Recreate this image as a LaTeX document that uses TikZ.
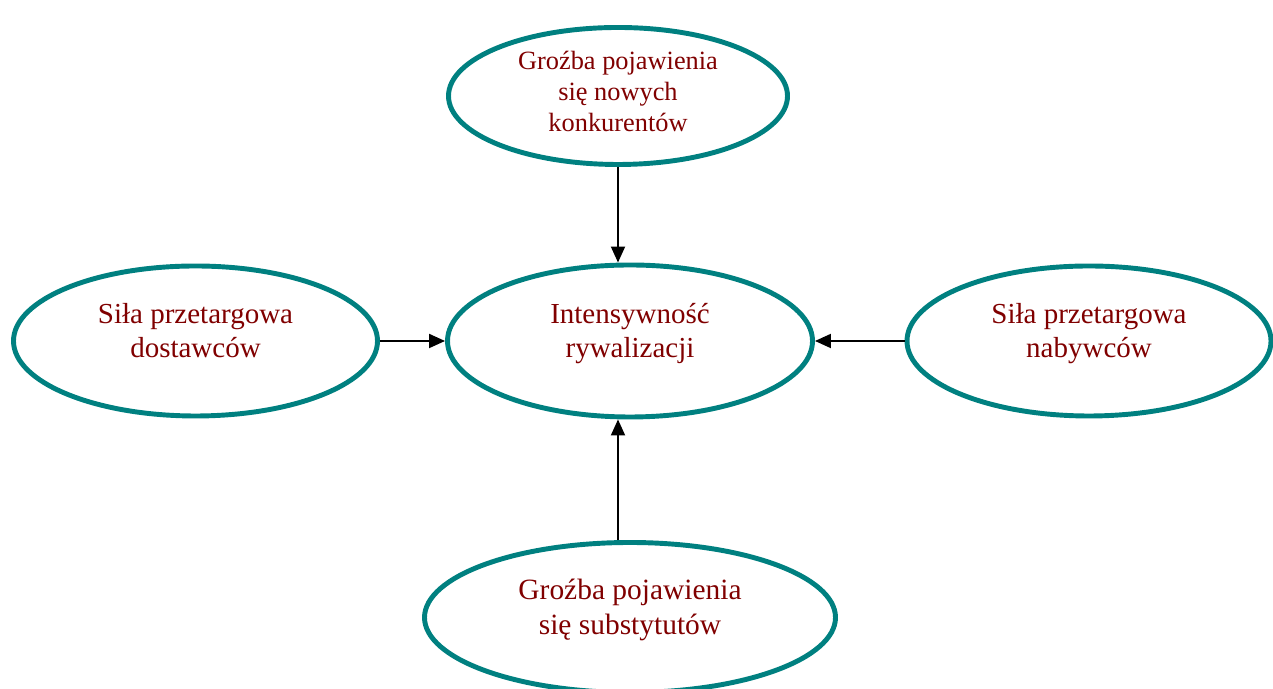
\documentclass[tikz,border=0pt]{standalone}
\usepackage{fontspec}
\setmainfont{Liberation Serif}
\usetikzlibrary{positioning}
\usetikzlibrary{shapes.geometric}
\usetikzlibrary{arrows.meta}
\definecolor{forceteal}{RGB}{0,128,128}
\definecolor{forcered}{RGB}{128,0,0}
\tikzset{
	force/.style = {ellipse, draw = forceteal, line width = 2.8pt, inner sep = 0pt, text = forcered, align = center, font = \fontsize{16.5}{19.5}\selectfont, text height = 30pt, text depth = 11.4pt},
	push/.style = {black, line width = 1.1pt, -{Triangle[length = 0.32cm, width = 0.28cm]}}
}

\begin{document}
\begin{tikzpicture}
					\useasboundingbox (0, 0) rectangle (25.46, 13.78);
					\node [force, minimum width = 7.30cm, minimum height = 3.04cm] (rivalry) at (12.60, 6.96) {Intensywność\\rywalizacji};
					\node [force, minimum width = 6.78cm, minimum height = 2.74cm, font = \fontsize{15}{17.6}\selectfont, text height = 45pt, text depth = 4.2pt] (entrants) at (12.36, 11.86) {Groźba pojawienia\\się nowych\\konkurentów};
					\node [force, minimum width = 7.28cm, minimum height = 3.00cm] (suppliers) at (3.91, 6.96) {Siła przetargowa\\dostawców};
					\node [force, minimum width = 7.28cm, minimum height = 3.00cm] (buyers) at (21.78, 6.96) {Siła przetargowa\\nabywców};
					\node [force, minimum width = 8.22cm, minimum height = 3.00cm, font = \fontsize{16.75}{20}\selectfont, text depth = 10.2pt] (substitutes) at (12.60, 1.43) {Groźba pojawienia\\się substytutów};
					\draw [push] (entrants.south) -- (entrants.south |- rivalry.north);
					\draw [push] (entrants.south |- substitutes.north) -- (entrants.south |- rivalry.south);
					\draw [push] (suppliers.east) -- (rivalry.west);
					\draw [push] (buyers.west) -- (rivalry.east);
				\end{tikzpicture}
\end{document}
